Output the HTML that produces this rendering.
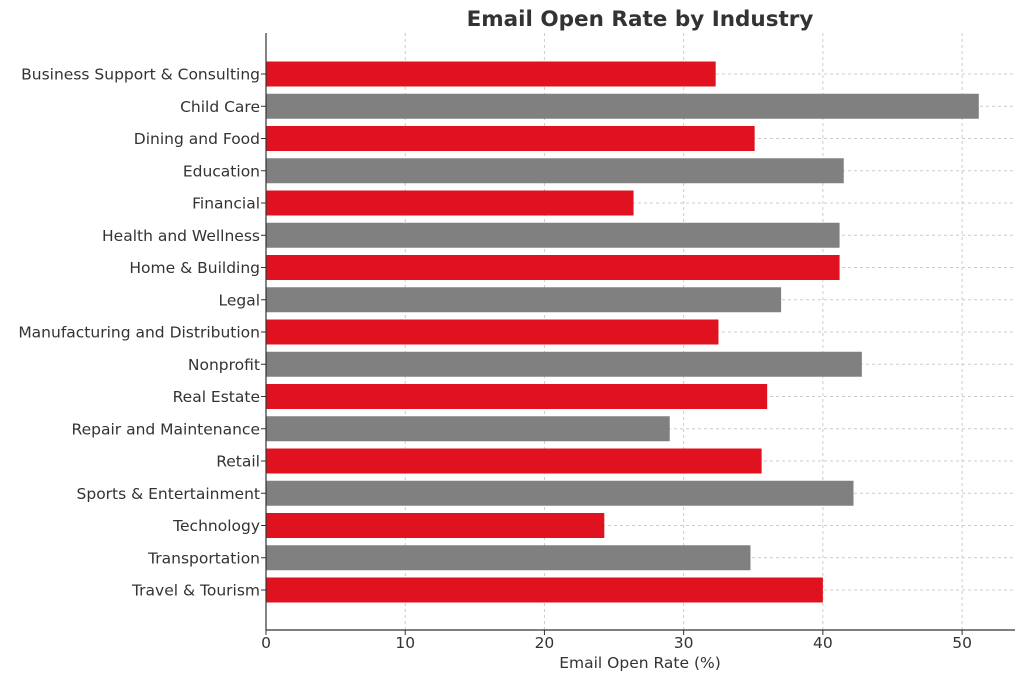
<!DOCTYPE html>
<html><head><meta charset="utf-8"><style>
body{margin:0;background:#fff;}
svg text{font-family:"DejaVu Sans","Liberation Sans",sans-serif;fill:#333;}
</style></head><body>
<svg width="1024" height="681" xmlns="http://www.w3.org/2000/svg" id="chart">
<text x="640" y="26" text-anchor="middle" font-size="21.5" font-weight="bold">Email Open Rate by Industry</text>
<g id="grid"></g><g id="bars"></g><g id="ylabels"></g><g id="xticks"></g>
<line x1="266" y1="33" x2="266" y2="630" stroke="#333" stroke-width="1.2"/>
<line x1="266" y1="630" x2="1015" y2="630" stroke="#333" stroke-width="1.2"/>
<text x="640" y="668" text-anchor="middle" font-size="15.5">Email Open Rate (%)</text>
</svg>
<script>
const categories=["Business Support & Consulting","Child Care","Dining and Food","Education","Financial","Health and Wellness","Home & Building","Legal","Manufacturing and Distribution","Nonprofit","Real Estate","Repair and Maintenance","Retail","Sports & Entertainment","Technology","Transportation","Travel & Tourism"];
const values=[32.3,51.2,35.1,41.5,26.4,41.2,41.2,37.0,32.5,42.8,36.0,29.0,35.6,42.2,24.3,34.8,40.0];
const xTicks=[0,10,20,30,40,50];
const NS="http://www.w3.org/2000/svg";
const x0=266,xMax=53.8,x1=1015,y0=74,step=32.25,bh=25;
const xs=v=>x0+(x1-x0)*v/xMax;
const ys=i=>y0+i*step;
function mk(t,a,p){const e=document.createElementNS(NS,t);for(const k in a)e.setAttribute(k,a[k]);document.getElementById(p).appendChild(e);return e;}
xTicks.forEach(t=>{
 const g=mk('line',{x1:xs(t),x2:xs(t),y1:33,y2:630,stroke:'#ccc','stroke-dasharray':'3,3'},'grid');
 
 
 const tk=mk('line',{x1:xs(t),x2:xs(t),y1:630,y2:635,stroke:'#333'},'xticks');
 
 
 const l=mk('text',{x:xs(t),y:648,'text-anchor':'middle','font-size':15.5},'xticks');
 l.textContent=t;
 
 
});
categories.forEach((c,i)=>{
 const y=ys(i);
 const g=mk('line',{x1:x0,x2:x1,y1:y,y2:y,stroke:'#ccc','stroke-dasharray':'3,3'},'grid');
 
 
 const b=mk('rect',{x:x0,y:y-bh/2,width:xs(values[i])-x0,height:bh,fill:i%2?'#808080':'#e0121f'},'bars');
 
 
 const tk=mk('line',{x1:261,x2:266,y1:y,y2:y,stroke:'#333'},'ylabels');
 
 
 const l=mk('text',{x:260,y:y+5.5,'text-anchor':'end','font-size':15.5},'ylabels');
 l.textContent=c;
 
 
});
</script>
</body></html>
